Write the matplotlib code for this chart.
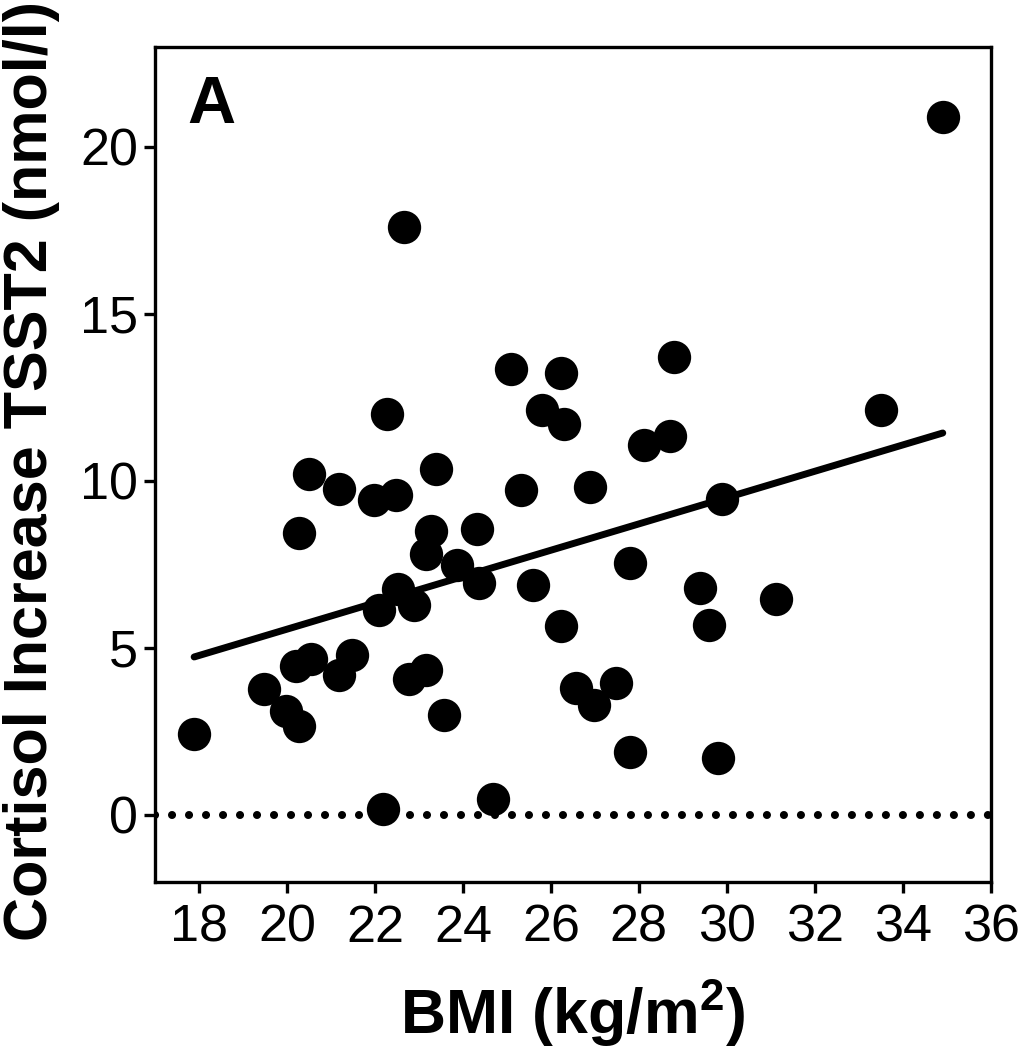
import numpy as np
import matplotlib
matplotlib.use("Agg")
import matplotlib.pyplot as plt

plt.rcParams['font.family'] = ['Liberation Sans', 'DejaVu Sans']
plt.rcParams['mathtext.fontset'] = 'custom'
plt.rcParams['mathtext.bf'] = 'Liberation Sans:bold'
plt.rcParams['mathtext.rm'] = 'Liberation Sans:bold'

# Data
bmi = [17.89, 34.91, 22.67, 25.10, 26.22, 28.81, 22.28, 25.79, 26.31, 28.11,
       28.70, 33.50, 20.50, 21.19, 23.39, 21.98, 22.48, 25.31, 26.90, 29.88,
       20.28, 23.28, 24.31, 23.17, 23.87, 24.37, 25.60, 27.81, 29.40, 22.53,
       22.10, 22.89, 26.22, 29.59, 31.11, 20.21, 20.55, 19.48, 21.48, 21.19,
       19.98, 20.28, 22.78, 23.17, 23.58, 26.58, 27.49, 26.99, 27.81, 29.79,
       22.19, 24.69]
cortisol = [2.41, 20.90, 17.59, 13.36, 13.24, 13.72, 12.01, 12.13, 11.71, 11.08,
            11.33, 12.13, 10.22, 9.77, 10.36, 9.44, 9.59, 9.74, 9.83, 9.47,
            8.45, 8.51, 8.57, 7.82, 7.49, 6.95, 6.89, 7.55, 6.80, 6.77,
            6.14, 6.29, 5.66, 5.69, 6.47, 4.47, 4.68, 3.78, 4.79, 4.20,
            3.12, 2.67, 4.08, 4.35, 3.00, 3.81, 3.96, 3.30, 1.87, 1.71,
            0.19, 0.49]
fit_slope = 0.394
fit_intercept = -2.32

xticks = [18, 20, 22, 24, 26, 28, 30, 32, 34, 36]
yticks = [0, 5, 10, 15, 20]

W, H = 1018, 1050
fig = plt.figure(figsize=(W / 100, H / 100), dpi=100)
ax = fig.add_axes([155 / W, 1 - 881.7 / H, (990.7 - 155) / W, (881.7 - 46.7) / H])

ax.set_xlim(17, 36)
ax.set_ylim(-2, 23)

# zero reference line (dotted)
ax.plot([17, 36], [0, 0], color='black', lw=5.8,
        linestyle=(0, (0.01, 2.1)), dash_capstyle='round', zorder=1)

# regression line
fx = np.array([min(bmi), max(bmi)])
ax.plot(fx, fit_intercept + fit_slope * fx, color='black', lw=5,
        solid_capstyle='round', zorder=3)

# points
ax.plot(bmi, cortisol, 'o', color='black', markersize=24,
        markeredgewidth=0, zorder=2)

ax.set_xticks(xticks)
ax.set_yticks(yticks)
ax.set_xticklabels([str(t) for t in xticks])
ax.set_yticklabels([str(t) for t in yticks])
ax.tick_params(axis='both', direction='out', length=8, width=2.4,
               labelsize=37.5, color='black')
ax.tick_params(axis='x', pad=8)
ax.tick_params(axis='y', pad=4)

for s in ax.spines.values():
    s.set_linewidth(2.4)
    s.set_color('black')

fig.text(47 / W, 1 - 471 / H, 'Cortisol Increase TSST2 (nmol/l)',
         rotation=90, rotation_mode='anchor', ha='center', va='baseline',
         fontsize=44, fontweight='bold')
fig.text(572 / W, 1 - 1034 / H, r'BMI (kg/m$^\mathbf{2}$)',
         ha='center', va='baseline', fontsize=45, fontweight='bold')
fig.text(187 / W, 1 - 123 / H, 'A', ha='left', va='baseline',
         fontsize=48, fontweight='bold')

fig.savefig('out.png', dpi=100, facecolor='white')
